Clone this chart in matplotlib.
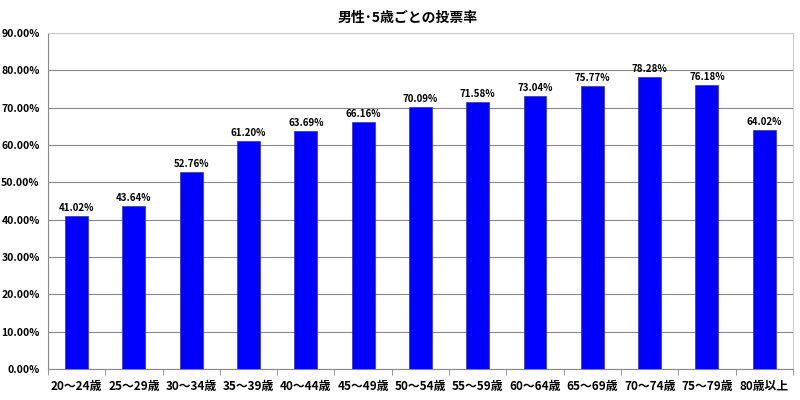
import numpy as np
import matplotlib.pyplot as plt
from matplotlib.ticker import FuncFormatter, FixedLocator

plt.rcParams['font.family'] = ['Noto Sans CJK JP', 'DejaVu Sans']

# data
categories = ['20～24歳', '25～29歳', '30～34歳', '35～39歳', '40～44歳', '45～49歳',
              '50～54歳', '55～59歳', '60～64歳', '65～69歳', '70～74歳', '75～79歳',
              '80歳以上']
rates = [41.02, 43.64, 52.76, 61.20, 63.69, 66.16, 70.09, 71.58, 73.04,
         75.77, 78.28, 76.18, 64.02]

fig = plt.figure(figsize=(8, 4), dpi=100)
ax = fig.add_axes([0.06, 0.0775, 0.931, 0.84])

x = np.arange(len(categories))
ax.bar(x, rates, width=0.4, color='#0000FF', edgecolor='#3333aa', linewidth=0.5, zorder=3)

for xi, v in zip(x, rates):
    ax.text(xi, v + 0.8, f'{v:.2f}%', ha='center', va='bottom',
            fontsize=7, fontweight='bold')

ax.set_xlim(-0.5, len(categories) - 0.5)
ax.set_ylim(0, 90)
ax.set_yticks(np.arange(0, 91, 10))
ax.yaxis.set_major_formatter(FuncFormatter(lambda v, p: f'{v:.2f}%'))
ax.grid(axis='y', color='#888888', linewidth=0.8, zorder=0)

ax.set_xticks(x)
ax.set_xticklabels(categories, fontsize=8.5, fontweight='bold')
ax.tick_params(axis='x', length=0, pad=8)
ax.xaxis.set_minor_locator(FixedLocator(np.arange(-0.5, len(categories), 1)))
ax.tick_params(axis='x', which='minor', length=4, color='#888888')
ax.tick_params(axis='y', length=0, labelsize=7.5, pad=6)
for lbl in ax.get_yticklabels():
    lbl.set_fontweight('bold')

ax.spines['left'].set_color('#888888')
ax.spines['bottom'].set_color('#888888')
ax.spines['top'].set_color('#cccccc')
ax.spines['right'].set_color('#cccccc')

fig.text(0.51, 0.955, '男性･5歳ごとの投票率', ha='center', va='center',
         fontsize=10, fontweight='bold')

fig.savefig('out.png', dpi=100)
